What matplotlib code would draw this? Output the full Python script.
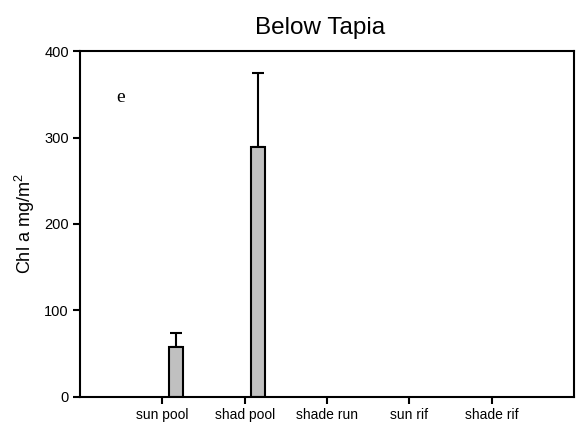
import matplotlib
matplotlib.use("Agg")
import matplotlib.pyplot as plt
import numpy as np

plt.rcParams['font.family'] = ['Liberation Sans', 'DejaVu Sans']
plt.rcParams['mathtext.fontset'] = 'custom'
plt.rcParams['mathtext.rm'] = 'Liberation Sans'

# chlorophyll a by habitat, below Tapia
habitats = ['sun pool', 'shad pool', 'shade run', 'sun rif', 'shade rif']
chl_mean = [58, 289, 0, 0, 0]
chl_err = [16, 86, 0, 0, 0]

x = np.arange(len(habitats))
offset = 0.16

fig = plt.figure(figsize=(5.81, 4.24), dpi=100)
ax = fig.add_axes([0.1377, 0.0637, 0.8503, 0.816])

has_bar = np.array(chl_mean) > 0
ax.bar(x[has_bar] + offset, np.array(chl_mean)[has_bar], width=0.17,
       color='#c0c0c0', edgecolor='black', linewidth=1.5, zorder=2)
ax.errorbar(x[has_bar] + offset, np.array(chl_mean)[has_bar],
            yerr=[np.zeros(has_bar.sum()), np.array(chl_err)[has_bar]],
            fmt='none', ecolor='black', elinewidth=1.5, capsize=4.3,
            capthick=1.5, zorder=1)

ax.set_xlim(-1, 5)
ax.set_ylim(0, 400)
ax.set_xticks(x)
ax.set_xticklabels(habitats, fontsize=10)
ax.set_yticks([0, 100, 200, 300, 400])
ax.tick_params(axis='y', labelsize=10.5, length=5, width=1.5,
               direction='out', pad=3)
ax.tick_params(axis='x', length=5, width=1.5, direction='out', pad=3)
for sp in ax.spines.values():
    sp.set_linewidth(1.5)

ax.set_ylabel('Chl a mg/m$^\\mathrm{2}$', fontsize=13, labelpad=5)
ax.set_title('Below Tapia', fontsize=17.5, pad=12, x=0.486)
ax.text(-0.51, 346, 'e', family='Liberation Serif', fontsize=14,
        ha='center', va='center')

fig.savefig('out.png', dpi=100)
